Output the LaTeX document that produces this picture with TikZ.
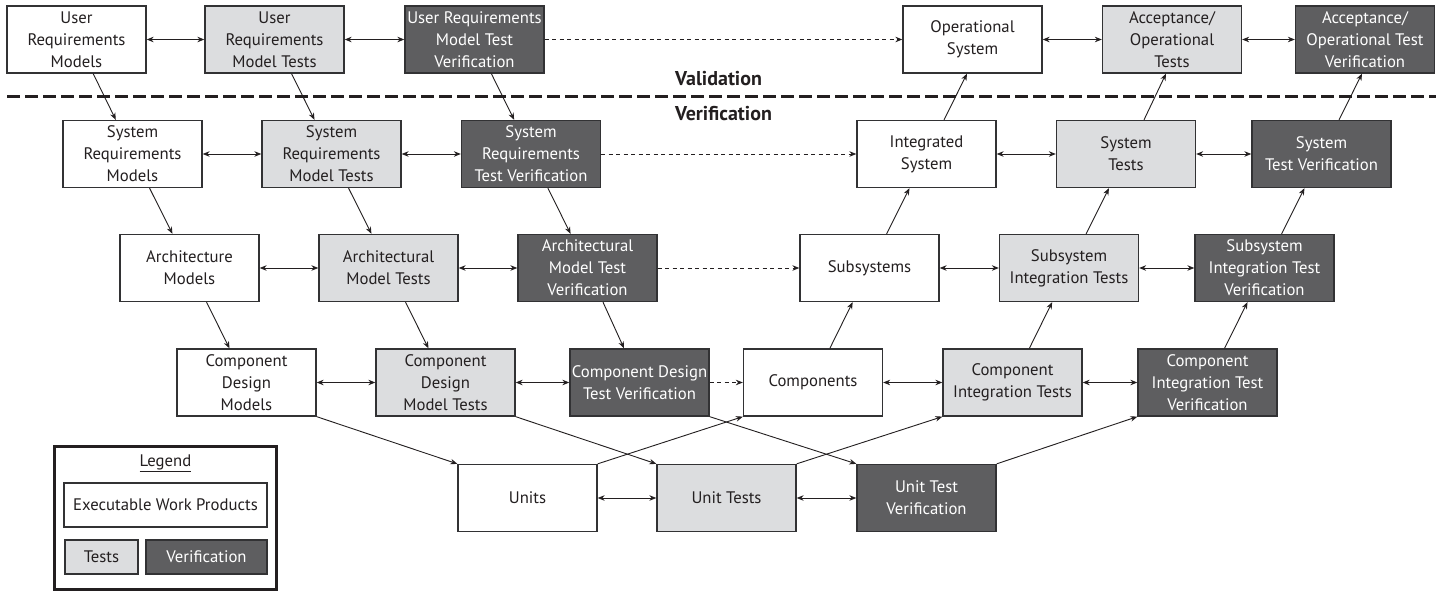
\documentclass[tikz,border=0pt]{standalone}
\usepackage{fontspec}
\setmainfont{PT Sans}
\usetikzlibrary{arrows.meta,calc}
\definecolor{testfill}{RGB}{220,221,223}
\definecolor{verfill}{RGB}{94,94,96}
\definecolor{edgec}{RGB}{50,50,52}
\definecolor{linec}{RGB}{35,31,32}
\definecolor{txtc}{RGB}{35,31,32}
\begin{document}
\begin{tikzpicture}[x=1pt,y=-1pt,
  basebox/.style={draw=edgec, line width=1.3pt, minimum width=139pt, minimum height=67pt,
    align=center, inner sep=0pt, font=\fontsize{16.7}{22}\selectfont, text=txtc},
  wpbox/.style={basebox, fill=white},
  testbox/.style={basebox, fill=testfill},
  verbox/.style={basebox, fill=verfill, text=white},
  tipc/.tip={Stealth[length=7pt,width=5.5pt]},
  conn/.style={draw=linec, line width=0.9pt, -tipc},
  dconn/.style={draw=linec, line width=0.9pt, tipc-tipc},
  dashconn/.style={conn, dash pattern=on 4pt off 3.5pt},
  sep/.style={draw=linec, line width=3pt, dash pattern=on 13pt off 5pt},
  heading/.style={font=\fontsize{20}{22}\bfseries\selectfont, text=txtc, anchor=west, inner sep=0pt},
]
\useasboundingbox (0,0) rectangle (1436,596);
\fill[white] (0,0) rectangle (1436,596);

% separator
\coordinate (sepL) at (7,97);
\coordinate (sepR) at (1436,97);
\draw[sep] (sepL) -- (sepR);
\node[heading] (validation) at (675,79) {Validation};
\node[heading] (verification) at (675,114) {Verification};

% Row 1
\node[wpbox]   (urm)   at (76.5,39.5)  {User\\Requirements\\Models};
\node[testbox] (urmt)  at (274.5,39.5) {User\\Requirements\\Model Tests};
\node[verbox]  (urmtv) at (474.5,39.5) {User Requirements\\Model Test\\Verification};
\node[wpbox]   (opsys) at (972.5,39.5) {Operational\\System};
\node[testbox] (acct)  at (1172,39.5)  {Acceptance/\\Operational\\Tests};
\node[verbox]  (acctv) at (1365,39.5)  {Acceptance/\\Operational Test\\Verification};

% Row 2
\node[wpbox]   (srm)    at (132.5,154) {System\\Requirements\\Models};
\node[testbox] (srmt)   at (331.5,154) {System\\Requirements\\Model Tests};
\node[verbox]  (srtv)   at (531,154)   {System\\Requirements\\Test Verification};
\node[wpbox]   (intsys) at (926.5,154) {Integrated\\System};
\node[testbox] (syst)   at (1126,154)  {System\\Tests};
\node[verbox]  (systv)  at (1321.5,154) {System\\Test Verification};

% Row 3
\node[wpbox]   (archm)   at (189.5,268) {Architecture\\Models};
\node[testbox] (archmt)  at (388.5,268) {Architectural\\Model Tests};
\node[verbox]  (archmtv) at (587.5,268) {Architectural\\Model Test\\Verification};
\node[wpbox]   (subsys)  at (869.5,268) {Subsystems};
\node[testbox] (subit)   at (1069,268)  {Subsystem\\Integration Tests};
\node[verbox]  (subitv)  at (1264.5,268) {Subsystem\\Integration Test\\Verification};

% Row 4
\node[wpbox]   (cdm)     at (246.5,382.5) {Component\\Design\\Models};
\node[testbox] (cdmt)    at (445.5,382.5) {Component\\Design\\Model Tests};
\node[verbox]  (cdtv)    at (639.5,382.5) {Component Design\\Test Verification};
\node[wpbox]   (comp)    at (813,382.5)   {Components};
\node[testbox] (compit)  at (1012.5,382.5) {Component\\Integration Tests};
\node[verbox]  (compitv) at (1207.5,382.5) {Component\\Integration Test\\Verification};

% Row 5
\node[wpbox]   (units) at (527.5,498) {Units};
\node[testbox] (unitt) at (726.5,498) {Unit Tests};
\node[verbox]  (utv)   at (926.5,498) {Unit Test\\Verification};

% horizontal double arrows
\foreach \a/\b in {urm/urmt,urmt/urmtv,opsys/acct,acct/acctv,
                   srm/srmt,srmt/srtv,intsys/syst,syst/systv,
                   archm/archmt,archmt/archmtv,subsys/subit,subit/subitv,
                   cdm/cdmt,cdmt/cdtv,comp/compit,compit/compitv,
                   units/unitt,unitt/utv}
  \draw[dconn] (\a.east) -- (\b.west);

% dashed arrows
\draw[dashconn] (urmtv.east) -- (opsys.west);
\draw[dashconn] (srtv.east) -- (intsys.west);
\draw[dashconn] (archmtv.east) -- (subsys.west);
\draw[dashconn] (cdtv.east) -- (comp.west);

% down arrows (left side)
\foreach \a/\b in {urm/srm,urmt/srmt,urmtv/srtv,
                   srm/archm,srmt/archmt,srtv/archmtv,
                   archm/cdm,archmt/cdmt,archmtv/cdtv}
  \draw[conn] (\a) -- (\b);

% up arrows (right side)
\draw[conn] ($(intsys.north)+(17.5,0)$) -- ($(opsys.south)+(-5.5,0)$);
\draw[conn] ($(syst.north)+(18,0)$) -- ($(acct.south)+(-6,0)$);
\draw[conn] ($(systv.north)+(17.5,0)$) -- ($(acctv.south)+(-3,0)$);
\foreach \a/\b in {subsys/intsys,subit/syst,subitv/systv,
                   comp/subsys,compit/subit,compitv/subitv}
  \draw[conn] (\a) -- (\b);

% cross arrows to/from units row
\draw[conn] (cdm.south east) -- (units.north west);
\draw[conn] (cdmt.south east) -- (unitt.north west);
\draw[conn] (cdtv.south east) -- (utv.north west);
\draw[conn] (units.north east) -- (comp.south west);
\draw[conn] (unitt.north east) -- (compit.south west);
\draw[conn] (utv.north east) -- (compitv.south west);

% legend
\node[draw=linec, line width=3pt, minimum width=222pt, minimum height=143pt, inner sep=0pt] (legendframe) at (165.5,518) {};
\node[font=\fontsize{16.7}{20}\selectfont, text=txtc, inner sep=0pt] (legendtitle) at (165.5,463) {\underline{Legend}};
\node[wpbox, minimum width=203pt, minimum height=44pt] (legwp) at (165.5,505) {Executable Work Products};
\node[testbox, minimum width=73pt, minimum height=34pt] (legtest) at (101.5,557) {Tests};
\node[verbox, minimum width=121pt, minimum height=34pt] (legver) at (206.5,557) {Verification};
\end{tikzpicture}
\end{document}
